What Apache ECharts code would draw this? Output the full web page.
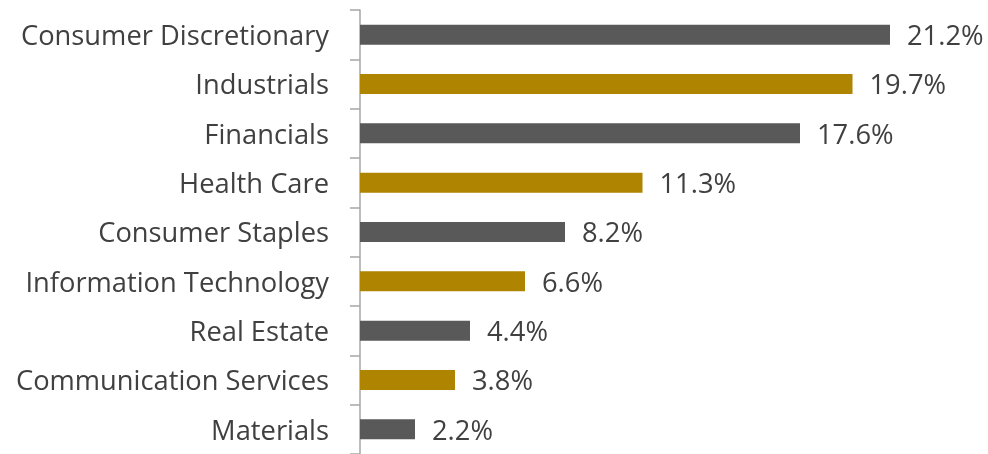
<!DOCTYPE html>
<html><head><meta charset="utf-8">
<script src="https://cdn.jsdelivr.net/npm/echarts@6/dist/echarts.min.js"></script>
<style>html,body{margin:0;padding:0;background:#fff}#c{width:988px;height:454px}</style>
</head><body><div id="c"></div>
<script>
const categories = ["Consumer Discretionary","Industrials","Financials","Health Care","Consumer Staples","Information Technology","Real Estate","Communication Services","Materials"];
const values = [21.2, 19.7, 17.6, 11.3, 8.2, 6.6, 4.4, 3.8, 2.2];
const colors = ["#595959", "#AE8400"];

const txt = {color:'#404040', fontSize:27.3, fontFamily:'Open Sans', padding:[5,0,0,0]};
const chart = echarts.init(document.getElementById('c'), null, {renderer:'canvas'});
chart.setOption({
  animation:false,
  grid:{left:360, right:3, top:10, bottom:-3, containLabel:false},
  xAxis:{type:'value', min:0, max:25, show:false},
  yAxis:{type:'category', data:categories, inverse:true,
    axisLine:{show:true, lineStyle:{color:'#A6A6A6', width:1.5}},
    axisTick:{show:true, length:10, lineStyle:{color:'#A6A6A6', width:1.5}},
    axisLabel:{margin:31, color:'#404040', fontSize:27.3, fontFamily:'Open Sans',
      formatter:v=>'{a|'+v+'}', rich:{a:txt}}
  },
  series:[{type:'bar', barWidth:20,
    data: values.map((v,i)=>({value:v, itemStyle:{color:colors[i%2]}})),
    label:{show:true, position:'right', distance:17, color:'#404040', fontSize:27.3, fontFamily:'Open Sans',
      formatter:p=>'{a|'+p.value.toFixed(1)+'%}', rich:{a:txt}}
  }]
});
</script></body></html>
